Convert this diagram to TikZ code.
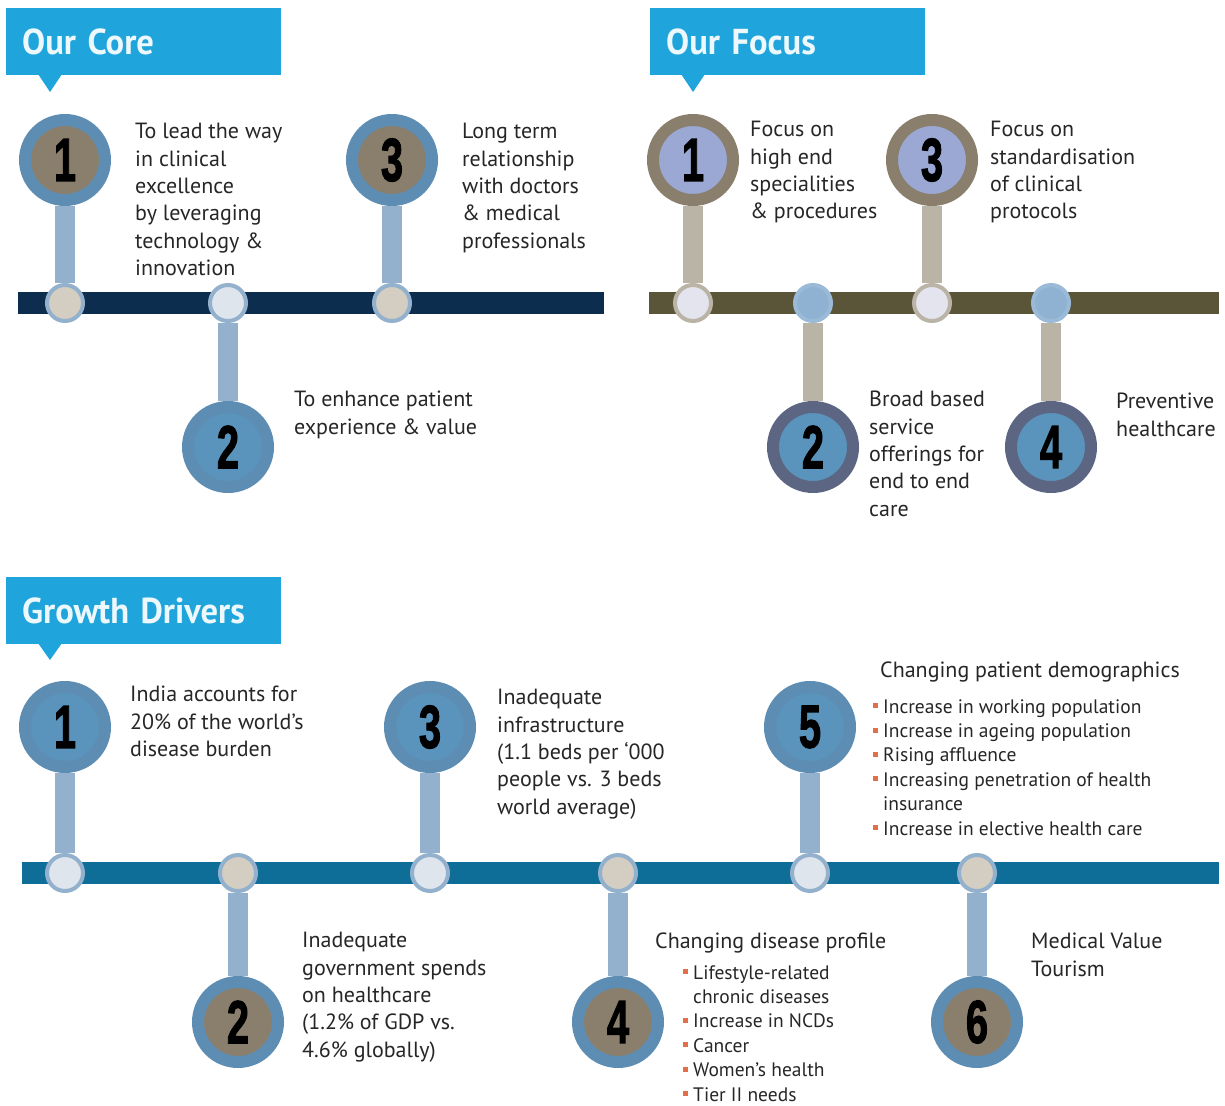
\documentclass[tikz,border=0pt]{standalone}
\usepackage{fontspec}
\setmainfont{PT Sans}
\newfontfamily\numfont[FakeBold=2]{Liberation Sans}
\usepackage{xcolor}
\usepackage{graphicx}
\usetikzlibrary{positioning}

\definecolor{bannerc}{HTML}{1FA5DB}
\definecolor{textc}{HTML}{262626}
\definecolor{corebar}{HTML}{0C2D4E}
\definecolor{focusbar}{HTML}{5A5538}
\definecolor{growbar}{HTML}{0F6E97}
\definecolor{ringblue}{HTML}{5E8DB3}
\definecolor{innblue}{HTML}{5A93BB}
\definecolor{taupe}{HTML}{8A7F6C}
\definecolor{lavender}{HTML}{9AA8D3}
\definecolor{slate}{HTML}{5C6683}
\definecolor{stemblue}{HTML}{93B1CC}
\definecolor{stemgrey}{HTML}{BAB4A6}
\definecolor{dotlight}{HTML}{DEE5ED}
\definecolor{dotbeige}{HTML}{D3CDC2}
\definecolor{dotlav}{HTML}{E3E4EE}
\definecolor{dotblue}{HTML}{8FB2D2}
\definecolor{bulletc}{HTML}{E0704A}

\newcommand{\numtxt}[1]{\scalebox{0.95}[1.45]{\numfont\bfseries\fontsize{42}{42}\selectfont #1}}
\newcommand{\blt}{\textcolor{bulletc}{\rule[0.25em]{5pt}{5pt}}\hspace{5pt}}

\begin{document}
\begin{tikzpicture}[
  x=1pt, y=-1pt,
  banner/.style={fill=bannerc, text=white!92!bannerc, minimum width=275pt, minimum height=67pt,
    anchor=north west, inner xsep=16pt, text width=243pt, align=left,
    font=\fontsize{36}{36}\selectfont\bfseries},
  bigc/.style={circle, minimum size=80pt, inner sep=0pt, line width=12pt},
  dot/.style={circle, minimum size=36pt, inner sep=0pt, line width=4pt},
  stem/.style={line width=20pt},
  bar/.style={line width=22pt},
  txt/.style={anchor=north west, align=left, inner sep=0pt, text=textc,
    font=\fontsize{22}{27.4}\selectfont},
  lst/.style={anchor=north west, align=left, inner sep=0pt, text=textc,
    font=\fontsize{19.5}{24.4}\selectfont},
]
\useasboundingbox (0,0) rectangle (1225,1105);

% Our Core
\node [banner] (bcore) at (6,8) {\scalebox{0.96}[1]{Our Core}};
\fill [bannerc] (38,74) -- (62,74) -- (50,92) -- cycle;
\coordinate (cl) at (18,303);
\coordinate (cr) at (604,303);
\draw [bar, corebar] (cl) -- (cr);

\node [bigc, fill=taupe, draw=ringblue] (c1) at (65,160) {\numtxt{1}};
\node [bigc, fill=innblue, draw=ringblue] (c2) at (228,447) {\numtxt{2}};
\node [bigc, fill=taupe, draw=ringblue] (c3) at (392,160) {\numtxt{3}};
\node [dot, fill=dotbeige, draw=stemblue] (d1) at (65,303) {};
\node [dot, fill=dotlight, draw=stemblue] (d2) at (228,303) {};
\node [dot, fill=dotbeige, draw=stemblue] (d3) at (392,303) {};
\draw [stem, stemblue] (c1) -- (d1);
\draw [stem, stemblue] (d2) -- (c2);
\draw [stem, stemblue] (c3) -- (d3);

\node [txt] (t1) at (135,123) {To lead the way\\in clinical\\excellence\\by leveraging\\technology \&\\innovation};
\node [txt] (t2) at (294,391) {To enhance patient\\experience \& value};
\node [txt] (t3) at (462,123) {Long term\\relationship\\with doctors\\\& medical\\professionals};

% Our Focus
\node [banner] (bfocus) at (650,8) {\scalebox{0.96}[1]{Our Focus}};
\fill [bannerc] (681,74) -- (705,74) -- (693,92) -- cycle;
\coordinate (fl) at (649,303);
\coordinate (fr) at (1219,303);
\draw [bar, focusbar] (fl) -- (fr);

\node [bigc, fill=lavender, draw=taupe] (f1) at (693,160) {\numtxt{1}};
\node [bigc, fill=innblue, draw=slate] (f2) at (813,447) {\numtxt{2}};
\node [bigc, fill=lavender, draw=taupe] (f3) at (932,160) {\numtxt{3}};
\node [bigc, fill=innblue, draw=slate] (f4) at (1051,447) {\numtxt{4}};
\node [dot, fill=dotlav, draw=stemgrey] (e1) at (693,303) {};
\node [dot, fill=dotblue, draw=dotblue!90!white] (e2) at (813,303) {};
\node [dot, fill=dotlav, draw=stemgrey] (e3) at (932,303) {};
\node [dot, fill=dotblue, draw=dotblue!90!white] (e4) at (1051,303) {};
\draw [stem, stemgrey] (f1) -- (e1);
\draw [stem, stemgrey] (e2) -- (f2);
\draw [stem, stemgrey] (f3) -- (e3);
\draw [stem, stemgrey] (e4) -- (f4);

\node [txt] (s1) at (750,121) {Focus on\\high end\\specialities\\\& procedures};
\node [txt] (s2) at (869,391) {Broad based\\service\\offerings for\\end to end\\care};
\node [txt] (s3) at (990,121) {Focus on\\standardisation\\of clinical\\protocols};
\node [txt] (s4) at (1116,393) {Preventive\\healthcare};

% Growth Drivers
\node [banner] (bgrowth) at (6,577) {\scalebox{0.96}[1]{Growth Drivers}};
\fill [bannerc] (38,643) -- (62,643) -- (50,660) -- cycle;
\coordinate (gl) at (22,873);
\coordinate (gr) at (1219,873);
\draw [bar, growbar] (gl) -- (gr);

\node [bigc, fill=innblue, draw=ringblue] (g1) at (65,727) {\numtxt{1}};
\node [bigc, fill=taupe, draw=ringblue] (g2) at (238,1022) {\numtxt{2}};
\node [bigc, fill=innblue, draw=ringblue] (g3) at (430,727) {\numtxt{3}};
\node [bigc, fill=taupe, draw=ringblue] (g4) at (618,1022) {\numtxt{4}};
\node [bigc, fill=innblue, draw=ringblue] (g5) at (810,727) {\numtxt{5}};
\node [bigc, fill=taupe, draw=ringblue] (g6) at (977,1022) {\numtxt{6}};
\node [dot, fill=dotlight, draw=stemblue] (h1) at (65,873) {};
\node [dot, fill=dotbeige, draw=stemblue] (h2) at (238,873) {};
\node [dot, fill=dotlight, draw=stemblue] (h3) at (430,873) {};
\node [dot, fill=dotbeige, draw=stemblue] (h4) at (618,873) {};
\node [dot, fill=dotlight, draw=stemblue] (h5) at (810,873) {};
\node [dot, fill=dotbeige, draw=stemblue] (h6) at (977,873) {};
\draw [stem, stemblue] (g1) -- (h1);
\draw [stem, stemblue] (h2) -- (g2);
\draw [stem, stemblue] (g3) -- (h3);
\draw [stem, stemblue] (h4) -- (g4);
\draw [stem, stemblue] (g5) -- (h5);
\draw [stem, stemblue] (h6) -- (g6);

\node [txt] (r1) at (130,686) {India accounts for\\20\% of the world's\\disease burden};
\node [txt] (r2) at (302,932) {Inadequate\\government spends\\on healthcare\\(1.2\% of GDP vs.\\4.6\% globally)};
\node [txt] (r3) at (497,689) {Inadequate\\infrastructure\\(1.1 beds per `000\\people vs. 3 beds\\world average)};
\node [txt] (r4) at (655,933) {Changing disease profile};
\node [lst] (l4) at (683,965) {\blt Lifestyle-related\\\hspace{10pt}chronic diseases\\\blt Increase in NCDs\\\blt Cancer\\\blt Women's health\\\blt Tier II needs};
\node [txt] (r5) at (880,662) {Changing patient demographics};
\node [lst] (l5) at (873,699) {\blt Increase in working population\\\blt Increase in ageing population\\\blt Rising affluence\\\blt Increasing penetration of health\\\hspace{10pt}insurance\\\blt Increase in elective health care};
\node [txt] (r6) at (1031,933) {Medical Value\\Tourism};

\end{tikzpicture}
\end{document}
